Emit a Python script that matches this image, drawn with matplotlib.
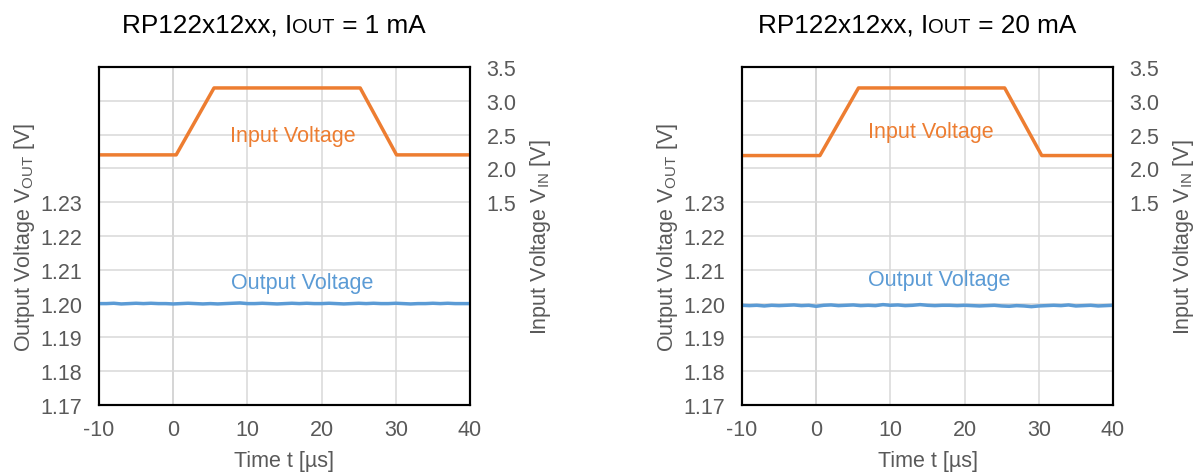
import matplotlib
matplotlib.use('Agg')
import matplotlib.pyplot as plt
from matplotlib.ticker import MultipleLocator, FuncFormatter

plt.rcParams['font.family'] = ['Liberation Sans', 'DejaVu Sans']
plt.rcParams['mathtext.default'] = 'regular'
plt.rcParams['axes.unicode_minus'] = False

# --- data ---
time_us = list(range(-10, 41))

# input voltage breakpoints (right axis)
vin_t_1mA = [-10, 0.4, 5.5, 25.2, 30.1, 40]
vin_v_1mA = [2.20, 2.20, 3.19, 3.19, 2.20, 2.20]
vin_t_20mA = [-10, 0.5, 5.7, 25.4, 30.4, 40]
vin_v_20mA = [2.19, 2.19, 3.19, 3.19, 2.19, 2.19]

# output voltage (left axis), one sample per us
vout_1mA = [1.2000, 1.2000, 1.2001, 1.1999, 1.2000, 1.2001, 1.2000, 1.2001, 1.2000, 1.2000,
            1.1999, 1.2000, 1.2001, 1.2000, 1.1999, 1.2000, 1.1999, 1.2000, 1.2001, 1.2002,
            1.2000, 1.2000, 1.2001, 1.2000, 1.1999, 1.2000, 1.2001, 1.2000, 1.2001, 1.2000,
            1.2000, 1.2001, 1.2000, 1.1999, 1.2000, 1.2001, 1.2000, 1.2001, 1.2000, 1.2000,
            1.2001, 1.2000, 1.1999, 1.2000, 1.2000, 1.2001, 1.2000, 1.2001, 1.2000, 1.2000, 1.2000]
vout_20mA = [1.1995, 1.1994, 1.1995, 1.1993, 1.1995, 1.1994, 1.1995, 1.1996, 1.1994, 1.1995,
             1.1992, 1.1995, 1.1996, 1.1994, 1.1995, 1.1996, 1.1994, 1.1995, 1.1994, 1.1997,
             1.1995, 1.1996, 1.1994, 1.1995, 1.1997, 1.1995, 1.1994, 1.1995, 1.1995, 1.1994,
             1.1995, 1.1994, 1.1993, 1.1994, 1.1995, 1.1993, 1.1992, 1.1994, 1.1993, 1.1991,
             1.1993, 1.1994, 1.1995, 1.1994, 1.1996, 1.1993, 1.1994, 1.1995, 1.1993, 1.1994, 1.1995]

titles = [('RP122x12xx, I', 'OUT', ' = 1 mA'), ('RP122x12xx, I', 'OUT', ' = 20 mA')]

ORANGE = '#ED7D31'
BLUE = '#5B9BD5'
GRAY = '#595959'
FS = 15.5

W, H = 1200, 477
fig = plt.figure(figsize=(W/100, H/100), dpi=100)


def panel(left_px, vin_t, vin_v, vout, in_lbl, out_lbl):
  ax = fig.add_axes([left_px/W, (H-406)/H, 371/W, 338/H])
  ax.set_xlim(-10, 40)
  ax.set_ylim(1.17, 1.27)
  ax.xaxis.set_major_locator(MultipleLocator(10))
  ax.yaxis.set_major_locator(MultipleLocator(0.01))
  ax.yaxis.set_major_formatter(FuncFormatter(lambda v, p: '%.2f' % v if v < 1.235 else ''))
  ax.grid(True, color='#D9D9D9', lw=1.1, zorder=0)
  ax.axvline(0, color='#BFBFBF', lw=1.1, zorder=1)
  ax.tick_params(length=0, labelsize=FS, labelcolor=GRAY)
  ax.tick_params(axis='y', pad=12)
  ax.tick_params(axis='x', pad=10)
  ax.plot(time_us, vout, color=BLUE, lw=2.5, zorder=3)
  ax.text(out_lbl[0], out_lbl[1], 'Output Voltage', color=BLUE, fontsize=FS, va='center')
  ax.set_xlabel('Time t [µs]', fontsize=FS, color=GRAY, labelpad=7)
  ax.set_ylabel('Output Voltage V$_{OUT}$ [V]', fontsize=FS, color=GRAY)
  ax.yaxis.set_label_coords(-0.168, 0.5)

  ax2 = ax.twinx()
  ax2.set_ylim(-1.5, 3.5)
  ax2.yaxis.set_major_locator(MultipleLocator(0.5))
  ax2.yaxis.set_major_formatter(FuncFormatter(lambda v, p: '%.1f' % v if v > 1.25 else ''))
  ax2.tick_params(length=0, labelsize=FS, labelcolor=GRAY, pad=12)
  ax2.plot(vin_t, vin_v, color=ORANGE, lw=2.5)
  ax2.text(in_lbl[0], in_lbl[1], 'Input Voltage', color=ORANGE, fontsize=FS, va='center')
  ax2.set_ylabel('Input Voltage V$_{IN}$ [V]', fontsize=FS, color=GRAY)
  ax2.yaxis.set_label_coords(1.155, 0.5)

  for a in (ax, ax2):
    for s in a.spines.values():
      s.set_color('black')
      s.set_linewidth(1.5)
  return ax


panel(99, vin_t_1mA, vin_v_1mA, vout_1mA, (7.6, 2.48), (7.8, 1.2061))
panel(742, vin_t_20mA, vin_v_20mA, vout_20mA, (7.0, 2.54), (7.0, 1.2070))

# titles: "I" followed by a small "OUT", all on one baseline
r = fig.canvas.get_renderer()
for x0, (a, b, c) in zip([122/W, 758/W], titles):
  x = x0
  for txt, size in [(a, 18.8), (b, 14.5), (c, 18.8)]:
    t = fig.text(x, (H-33)/H, txt, fontsize=size, va='baseline', ha='left', color='black')
    x = t.get_window_extent(r).x1 / fig.bbox.width

fig.savefig('out.png', dpi=100)
